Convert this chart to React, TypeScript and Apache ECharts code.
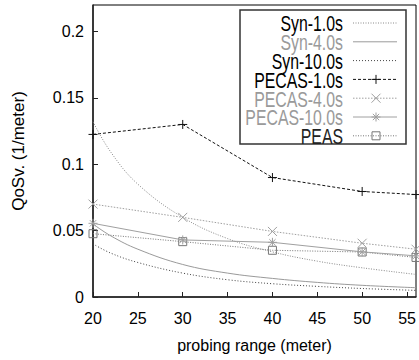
import React, { useEffect, useRef } from "react";
import * as echarts from "echarts";

// ---- data ----
const synX = [20, 22, 25, 30, 35, 40, 45, 50, 56];
const syn1 = [0.132, 0.109, 0.085, 0.06, 0.044, 0.034, 0.027, 0.022, 0.017];
const syn4 = [0.055, 0.046, 0.036, 0.0245, 0.018, 0.014, 0.011, 0.0088, 0.007];
const syn10 = [0.04, 0.033, 0.026, 0.018, 0.013, 0.01, 0.008, 0.0064, 0.005];

const simX = [20, 30, 40, 50, 56];
const pecas1 = [0.1225, 0.13, 0.09, 0.0795, 0.0772];
const pecas4 = [0.07, 0.06, 0.0494, 0.0405, 0.036];
const pecas10 = [0.0555, 0.043, 0.0412, 0.034, 0.031];
const peas = [0.0477, 0.0417, 0.0352, 0.0339, 0.0298];

const seriesNames = ["Syn-1.0s", "Syn-4.0s", "Syn-10.0s", "PECAS-1.0s", "PECAS-4.0s", "PECAS-10.0s", "PEAS"];

// ---- styles ----
type Def = { color: string; text: string; dash: number[] | null; marker: string | null };
const defs: Def[] = [
  { color: "#8a8a8a", text: "#000", dash: [1, 1.5], marker: null },
  { color: "#9a9a9a", text: "#9a9a9a", dash: null, marker: null },
  { color: "#444", text: "#000", dash: [1, 2], marker: null },
  { color: "#111", text: "#000", dash: [3, 2], marker: "plus" },
  { color: "#a0a0a0", text: "#9a9a9a", dash: [1.5, 1.5], marker: "cross" },
  { color: "#a0a0a0", text: "#9a9a9a", dash: null, marker: "star" },
  { color: "#777", text: "#222", dash: [1, 1.5], marker: "square" },
];

const symbolPaths: Record<string, string> = {
  plus: "path://M0,5L10,5M5,0L5,10",
  cross: "path://M0,0L10,10M10,0L0,10",
  star: "path://M0,5L10,5M5,0L5,10M1.5,1.5L8.5,8.5M8.5,1.5L1.5,8.5",
  square: "rect",
};

const FONT = "'Liberation Sans', Arial, Helvetica, sans-serif";

function markerGraphics(kind: string | null, cx: number, cy: number, color: string) {
  const r = 4.5;
  const st = { stroke: color, lineWidth: 1, fill: "none" };
  const ln = (x1: number, y1: number, x2: number, y2: number) => ({
    type: "line",
    shape: { x1, y1, x2, y2 },
    style: st,
  });
  if (kind === "plus") return [ln(cx - r, cy, cx + r, cy), ln(cx, cy - r, cx, cy + r)];
  if (kind === "cross") return [ln(cx - r, cy - r, cx + r, cy + r), ln(cx + r, cy - r, cx - r, cy + r)];
  if (kind === "star") {
    const d = r * 0.7;
    return [
      ln(cx - r, cy, cx + r, cy),
      ln(cx, cy - r, cx, cy + r),
      ln(cx - d, cy - d, cx + d, cy + d),
      ln(cx + d, cy - d, cx - d, cy + d),
    ];
  }
  if (kind === "square")
    return [{ type: "rect", shape: { x: cx - 4, y: cy - 4, width: 8, height: 8 }, style: st }];
  return [];
}

export default function App() {
  const ref = useRef<HTMLDivElement>(null);
  useEffect(() => {
    document.body.style.margin = "0";
    if (!ref.current) return;
    const chart = echarts.init(ref.current, undefined, { renderer: "svg" });

    const allData = [
      synX.map((x, i) => [x, syn1[i]]),
      synX.map((x, i) => [x, syn4[i]]),
      synX.map((x, i) => [x, syn10[i]]),
      simX.map((x, i) => [x, pecas1[i]]),
      simX.map((x, i) => [x, pecas4[i]]),
      simX.map((x, i) => [x, pecas10[i]]),
      simX.map((x, i) => [x, peas[i]]),
    ];

    const series = seriesNames.map((name, i) => {
      const d = defs[i];
      const isSyn = i < 3;
      return {
        name,
        type: "line",
        data: allData[i],
        smooth: isSyn ? 0.4 : false,
        showSymbol: !!d.marker,
        symbol: d.marker ? symbolPaths[d.marker] : "none",
        symbolSize: d.marker === "square" ? 8 : 9,
        itemStyle: { color: "none", borderColor: d.color, borderWidth: 1 },
        lineStyle: { color: d.color, width: 1, type: d.dash ? d.dash : "solid" },
        z: 10 - i,
        clip: true,
      };
    });

    // legend graphic
    const boxX = 240, boxY = 10, boxW = 166, boxH = 134;
    const legend: any[] = [
      {
        type: "rect",
        shape: { x: boxX, y: boxY, width: boxW, height: boxH },
        style: { fill: "#fff", stroke: "#333", lineWidth: 1.5 },
        z: 100,
      },
    ];
    seriesNames.forEach((name, i) => {
      const d = defs[i];
      const y = 23 + i * 18.8;
      legend.push({
        type: "text",
        x: 343,
        y: y + 1,
        scaleX: 0.72,
        style: {
          text: name,
          fill: d.text,
          font: `22px ${FONT}`,
          textAlign: "right",
          textVerticalAlign: "middle",
        },
        z: 101,
      });
      legend.push({
        type: "line",
        shape: { x1: 353, y1: y, x2: 397, y2: y },
        style: { stroke: d.color, lineWidth: 1, lineDash: d.dash ? d.dash : null },
        z: 101,
      });
      markerGraphics(d.marker, 376, y, d.color).forEach((g: any) => legend.push({ ...g, z: 102 }));
    });

    chart.setOption({
      animation: false,
      backgroundColor: "#fff",
      textStyle: { fontFamily: FONT },
      grid: {
        left: 93,
        right: 3,
        top: 5,
        bottom: 63,
        show: true,
        borderColor: "#000",
        borderWidth: 1,
        backgroundColor: "transparent",
        outerBoundsMode: "none",
        containLabel: false,
      },
      xAxis: {
        type: "value",
        min: 20,
        max: 56,
        interval: 5,
        name: "probing range (meter)",
        nameLocation: "middle",
        nameGap: 40,
        nameTextStyle: { fontSize: 16, color: "#000", fontFamily: FONT },
        axisLine: { show: true, lineStyle: { color: "#222", width: 1.5 } },
        axisTick: { show: true, inside: true, length: 5, lineStyle: { color: "#222" } },
        axisLabel: { fontSize: 16, color: "#000", margin: 13, showMaxLabel: false, fontFamily: FONT },
        splitLine: { show: false },
      },
      yAxis: {
        type: "value",
        min: 0,
        max: 0.22,
        interval: 0.05,
        name: "QoSv. (1/meter)",
        nameLocation: "middle",
        nameGap: 66,
        nameTextStyle: { fontSize: 17, color: "#000", fontFamily: FONT },
        axisLine: { show: true, lineStyle: { color: "#222", width: 1.5 } },
        axisTick: { show: true, inside: true, length: 5, lineStyle: { color: "#222" } },
        axisLabel: { fontSize: 16, color: "#000", margin: 9, showMaxLabel: false, fontFamily: FONT },
        splitLine: { show: false },
      },
      series,
      graphic: legend,
    } as any);
    return () => chart.dispose();
  }, []);
  return <div ref={ref} style={{ width: 419, height: 360 }} />;
}
